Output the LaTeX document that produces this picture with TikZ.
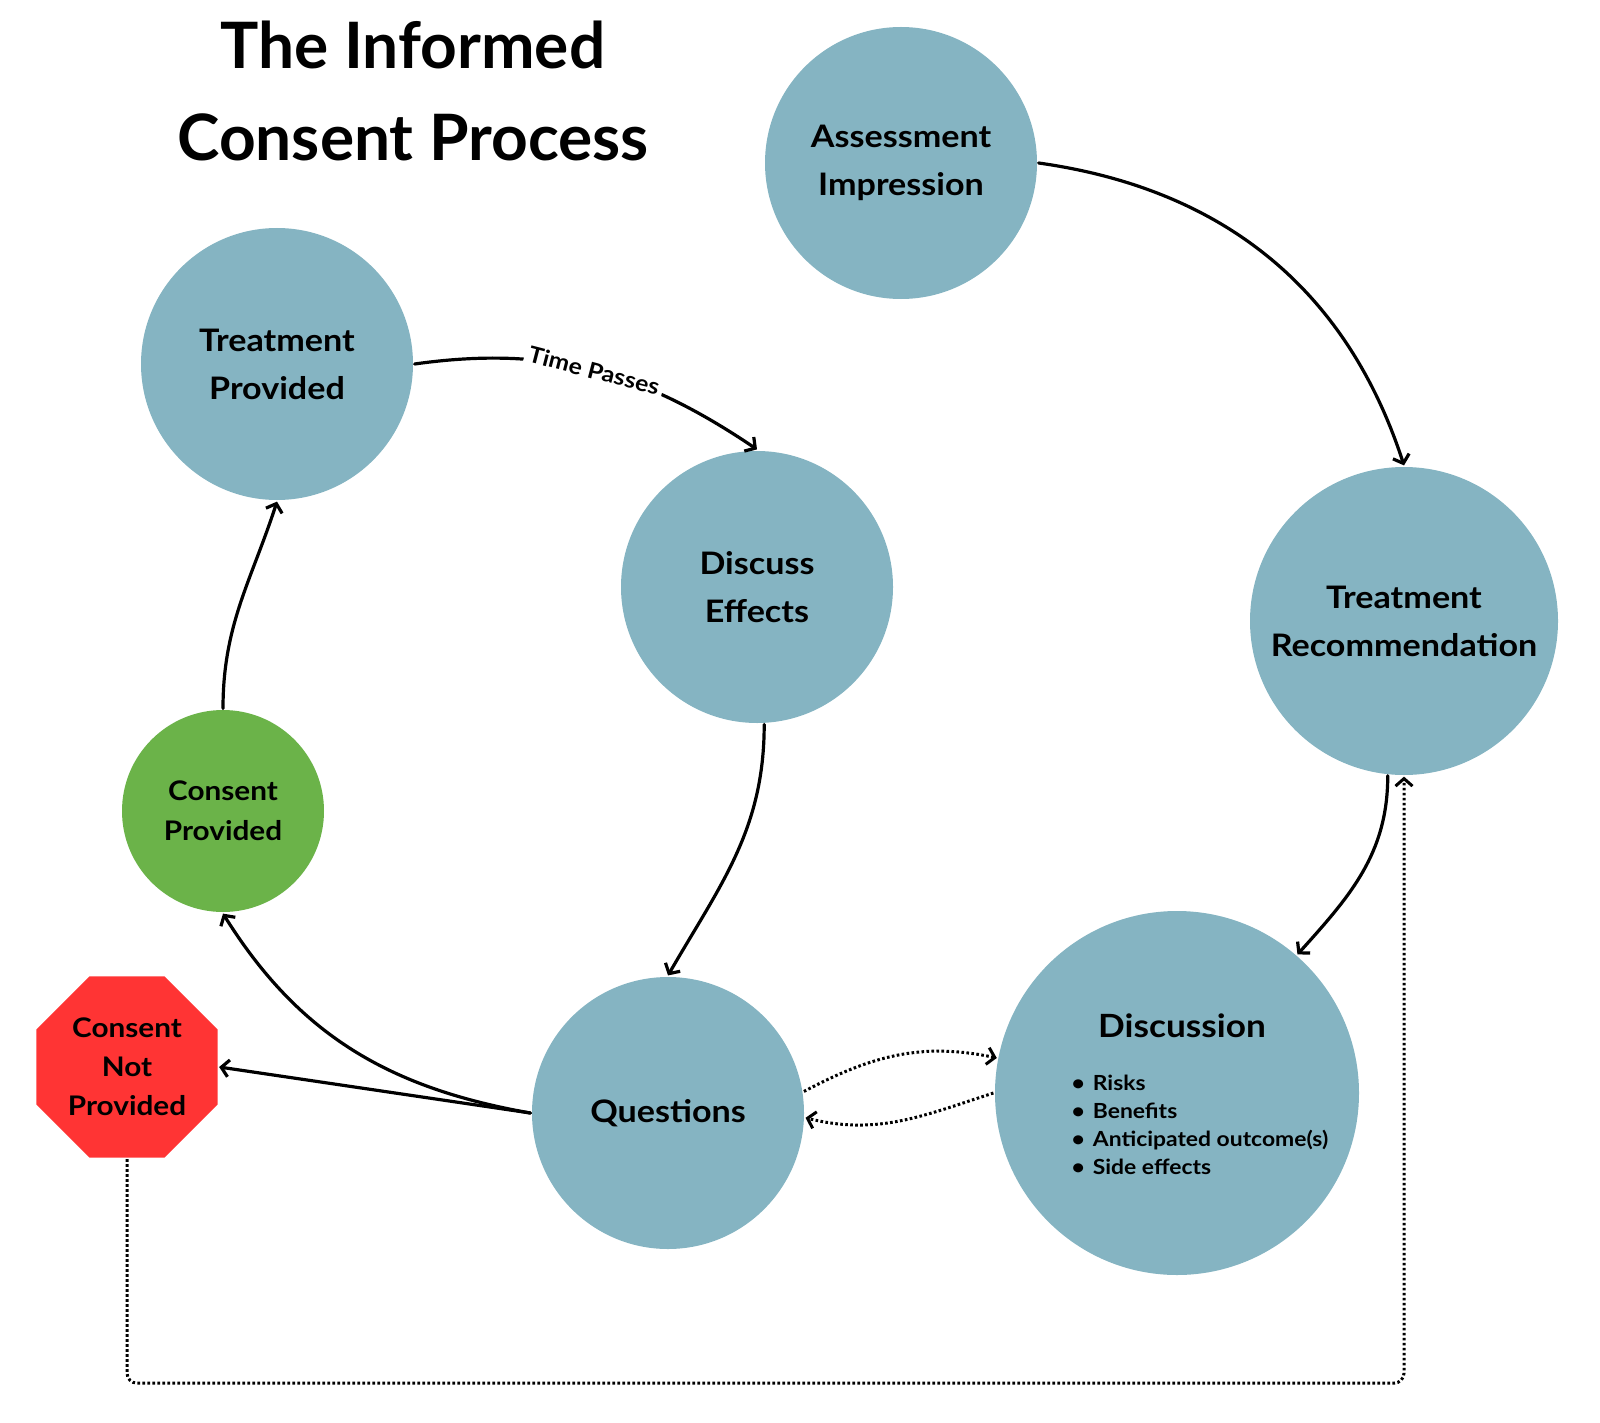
\documentclass[tikz,border=0pt]{standalone}
\usepackage{fontspec}
\setmainfont{Lato}[FakeStretch=1.1]
\newfontfamily\titlefont{Lato}
\usetikzlibrary{shapes.geometric,arrows.meta}
\definecolor{bubbleblue}{HTML}{85B4C2}
\definecolor{okgreen}{HTML}{6BB349}
\definecolor{stopred}{HTML}{FF3434}
\begin{document}
\begin{tikzpicture}[x=1pt, y=1pt, line width=3.2pt, line cap=round,
  >={Straight Barb[length=7.5pt,width=17pt]},
  bubble/.style={circle, fill=bubbleblue, align=center, inner sep=0pt,
    minimum size=272pt, font=\bfseries\fontsize{31}{48}\selectfont},
  dotlink/.style={line cap=butt, line width=3pt, dash pattern=on 2.6pt off 2.4pt}]
\useasboundingbox (0,0) rectangle (1600,-1423);
% title
\node[align=center, font=\titlefont\bfseries\fontsize{64}{92}\selectfont] (title) at (413,-91) {The Informed\\Consent Process};
% steps
\node[bubble] (AI) at (901,-163) {Assessment\\Impression};
\node[bubble, minimum size=308pt] (TR) at (1404,-621) {Treatment\\Recommendation};
\node[bubble, minimum size=364pt] (D) at (1177,-1093) {};
\node[font=\bfseries\fontsize{32}{40}\selectfont] (Dhead) at (1182,-1026) {Discussion};
\node[anchor=west, inner sep=0pt, align=left, font=\bfseries\fontsize{20.8}{28}\selectfont] (Dlist) at (1070,-1125)
  {•\hspace{8pt}Risks\\•\hspace{8pt}Benefits\\•\hspace{8pt}Anticipated outcome(s)\\•\hspace{8pt}Side effects};
\node[bubble] (Q) at (668,-1113) {Questions};
\node[bubble] (DE) at (757,-587) {Discuss\\Effects};
\node[bubble] (TP) at (277,-364) {Treatment\\Provided};
\node[bubble, fill=okgreen, minimum size=202pt, font=\bfseries\fontsize{27}{40}\selectfont] (CP) at (223,-811) {Consent\\Provided};
\node[regular polygon, regular polygon sides=8, fill=stopred, minimum size=196pt, inner sep=0pt,
  align=center, font=\bfseries\fontsize{27}{39}\selectfont] (CNP) at (127,-1067) {Consent\\Not\\Provided};
% links
\draw[->] (AI.east) to[out=-8,in=108] (TR.north);
\draw[->] (TR.-96) to[out=-90,in=48] (D.49);
\draw[->, dotlink] (Q.9) to[out=28,in=168] (D.169);
\draw[->, dotlink] (D.west) to[out=-162,in=-14] (Q.-2);
\draw[->] (DE.-87) to[out=-90,in=60] (Q.north);
\draw[->] (Q.west) to[out=170,in=-58] (CP.south);
\draw[->] (Q.west) -- (CNP.east);
\draw[->] (CP.north) to[out=90,in=-108] (TP.south);
\draw[->] (TP.east) to[out=8,in=146]
  node[pos=0.5, sloped, fill=white, inner sep=4pt, font=\bfseries\fontsize{22.5}{24}\selectfont] (time) {Time Passes} (DE.north);
\draw[->, dotlink, rounded corners=10pt] (CNP.south) -- ++(0,-224) -| (TR.south);
\end{tikzpicture}
\end{document}
